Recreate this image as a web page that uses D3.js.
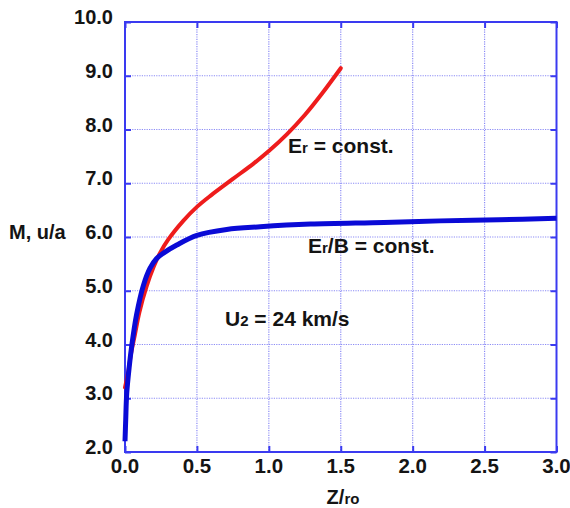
<!DOCTYPE html>
<html>
<head>
<meta charset="utf-8">
<script src="https://cdn.jsdelivr.net/npm/d3@7"></script>
<style>
  html, body { margin: 0; padding: 0; background: #fff; }
  svg { display: block; }
  text { font-family: "Liberation Sans", Arial, Helvetica, sans-serif; font-weight: bold; fill: #141414; }
</style>
</head>
<body>
<div id="chart"></div>
<script>
// Mach number along the channel for two field configurations
const erConst = [
  [0.0, 3.2], [0.023, 3.5], [0.04, 3.8], [0.07, 4.2], [0.1, 4.6],
  [0.15, 5.08], [0.2, 5.45], [0.243, 5.7], [0.3, 5.95], [0.405, 6.3],
  [0.5, 6.56], [0.6, 6.78], [0.75, 7.08], [0.9, 7.38], [1.0, 7.6],
  [1.125, 7.91], [1.25, 8.27], [1.37, 8.67], [1.5, 9.14]
];
const erOverBConst = [
  [0.0, 2.2], [0.005, 2.6], [0.012, 3.09], [0.03, 3.6], [0.046, 3.96],
  [0.08, 4.55], [0.128, 5.1], [0.174, 5.42], [0.22, 5.6], [0.267, 5.7],
  [0.36, 5.85], [0.5, 6.03], [0.707, 6.14], [0.94, 6.19], [1.29, 6.24],
  [1.8, 6.27], [2.19, 6.3], [2.6, 6.32], [3.0, 6.35]
];
const xTicks = [0, 0.5, 1.0, 1.5, 2.0, 2.5, 3.0];
const yTicks = [2, 3, 4, 5, 6, 7, 8, 9, 10];

const W = 570, H = 508;
const plotL = 125, plotR = 556.5, plotT = 22, plotB = 452;

const x = d3.scaleLinear().domain([0, 3]).range([plotL, plotR]);
const y = d3.scaleLinear().domain([2, 10]).range([plotB, plotT]);

const svg = d3.select("#chart").append("svg")
  .attr("width", W).attr("height", H);

const gridColor = "#8c8cf5";
const frameColor = "#3a3af0";

// dotted grid
svg.append("g").selectAll("line").data(xTicks.slice(1, -1)).join("line")
  .attr("x1", d => x(d)).attr("x2", d => x(d))
  .attr("y1", plotT).attr("y2", plotB)
  .attr("stroke", gridColor).attr("stroke-width", 1.2)
  .attr("stroke-dasharray", "1.2,1.2");
svg.append("g").selectAll("line").data(yTicks.slice(1, -1)).join("line")
  .attr("x1", plotL).attr("x2", plotR)
  .attr("y1", d => y(d)).attr("y2", d => y(d))
  .attr("stroke", gridColor).attr("stroke-width", 1.2)
  .attr("stroke-dasharray", "1.2,1.2");

// inward tick marks on all four sides
const tickLen = 6;
const axes = [
  d3.axisBottom(x).tickValues(xTicks).tickSize(tickLen).tickFormat(""),
  d3.axisTop(x).tickValues(xTicks).tickSize(tickLen).tickFormat(""),
  d3.axisLeft(y).tickValues(yTicks).tickSize(tickLen).tickFormat(""),
  d3.axisRight(y).tickValues(yTicks).tickSize(tickLen).tickFormat("")
];
const shifts = [
  `translate(0,${plotB - tickLen})`, `translate(0,${plotT + tickLen})`,
  `translate(${plotL + tickLen},0)`, `translate(${plotR - tickLen},0)`
];
axes.forEach((ax, i) => {
  const g = svg.append("g").attr("transform", shifts[i]).call(ax);
  g.select(".domain").remove();
  g.selectAll("line").attr("stroke", frameColor).attr("stroke-width", 2);
});

// frame
svg.append("rect")
  .attr("x", plotL).attr("y", plotT)
  .attr("width", plotR - plotL).attr("height", plotB - plotT)
  .attr("fill", "none").attr("stroke", frameColor).attr("stroke-width", 2);

// tick labels
svg.append("g").selectAll("text").data(yTicks).join("text")
  .attr("x", plotL - 12).attr("y", d => y(d) + 2)
  .attr("text-anchor", "end").attr("font-size", 20)
  .text(d => d.toFixed(1));
svg.append("g").selectAll("text").data(xTicks).join("text")
  .attr("x", d => x(d)).attr("y", plotB + 21)
  .attr("text-anchor", "middle").attr("font-size", 20.5)
  .text(d => d.toFixed(1));

// curves
const line = d3.line().x(d => x(d[0])).y(d => y(d[1])).curve(d3.curveCatmullRom.alpha(0.5));
svg.append("path").datum(erConst).attr("d", line)
  .attr("fill", "none").attr("stroke", "#ee1c1c").attr("stroke-width", 4)
  .attr("stroke-linecap", "round");
svg.append("path").datum(erOverBConst).attr("d", line)
  .attr("fill", "none").attr("stroke", "#0a0ad6").attr("stroke-width", 5);

// axis titles
svg.append("text").attr("x", 9).attr("y", 239).attr("font-size", 20).text("M, u/a");
const zt = svg.append("text").attr("x", 343).attr("y", 504)
  .attr("text-anchor", "middle").attr("font-size", 20);
zt.append("tspan").text("Z/");
zt.append("tspan").attr("font-size", 15).text("ro");

// annotations
const t1 = svg.append("text").attr("x", 288).attr("y", 153).attr("font-size", 21);
t1.append("tspan").text("E");
t1.append("tspan").attr("font-size", 15).text("r");
t1.append("tspan").text(" = const.");

const t2 = svg.append("text").attr("x", 308).attr("y", 253).attr("font-size", 21);
t2.append("tspan").text("E");
t2.append("tspan").attr("font-size", 15).text("r");
t2.append("tspan").text("/B = const.");

const t3 = svg.append("text").attr("x", 225).attr("y", 326).attr("font-size", 21);
t3.append("tspan").text("U");
t3.append("tspan").attr("font-size", 15).text("2");
t3.append("tspan").text(" = 24 km/s");
</script>
</body>
</html>
